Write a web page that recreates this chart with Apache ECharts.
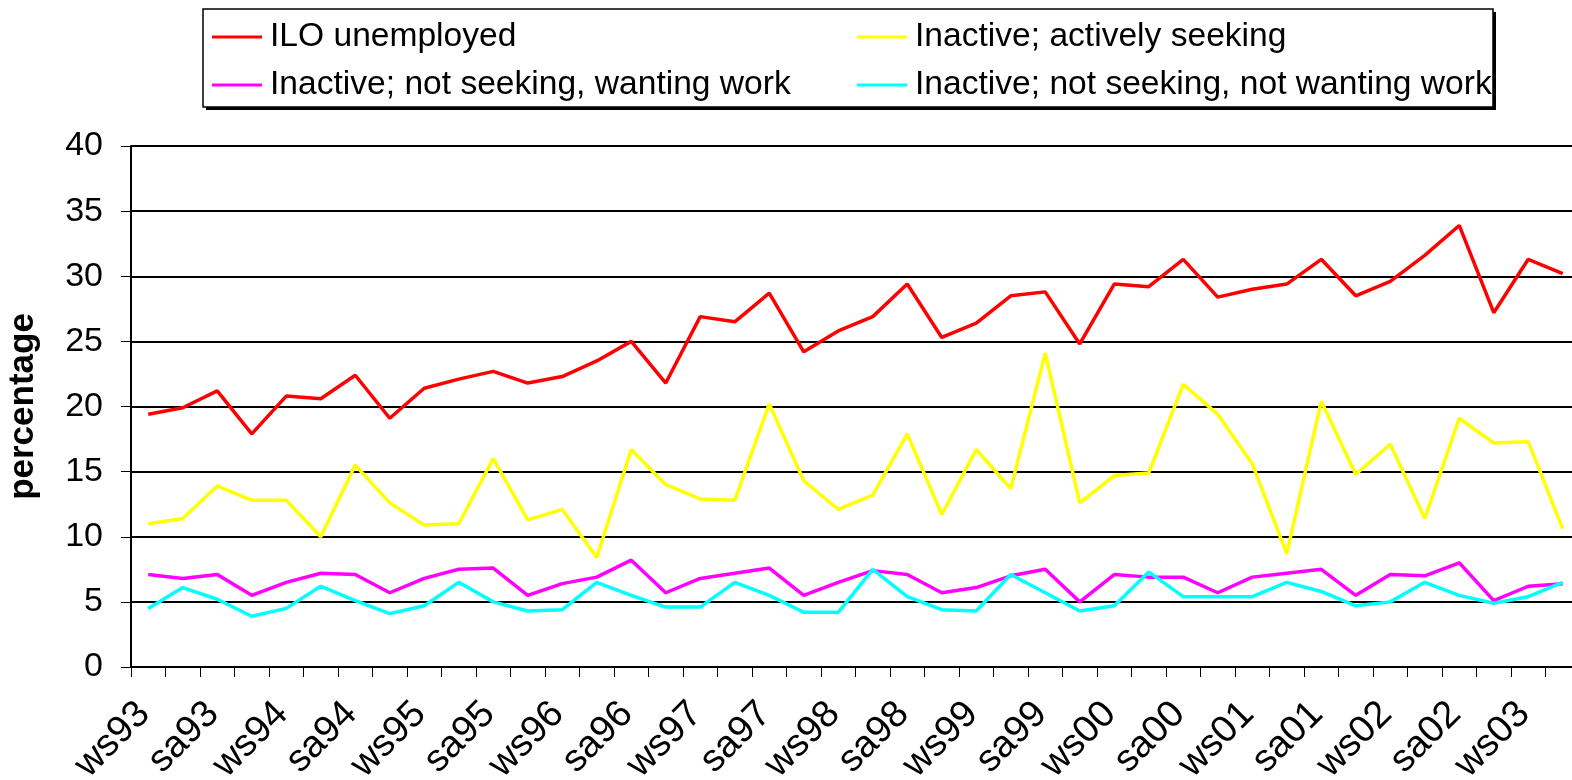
<!DOCTYPE html>
<html>
<head>
<meta charset="utf-8">
<script src="https://cdn.jsdelivr.net/npm/echarts@6/dist/echarts.min.js"></script>
<style>
html,body{margin:0;padding:0;background:#fff;}
#chart{width:1572px;height:780px;}
</style>
</head>
<body>
<div id="chart"></div>
<script>
// Categories: quarterly periods; every other one is labelled
const categories = [
  'ws93','sp93','sa93','au93','ws94','sp94','sa94','au94','ws95','sp95','sa95','au95',
  'ws96','sp96','sa96','au96','ws97','sp97','sa97','au97','ws98','sp98','sa98','au98',
  'ws99','sp99','sa99','au99','ws00','sp00','sa00','au00','ws01','sp01','sa01','au01',
  'ws02','sp02','sa02','au02','ws03','sp03'
];

const iloUnemployed = [
  19.4,19.9,21.2,17.9,20.8,20.6,22.4,19.1,21.4,22.1,22.7,21.8,22.3,23.5,25.0,21.8,
  26.9,26.5,28.7,24.2,25.8,26.9,29.4,25.3,26.4,28.5,28.8,24.8,29.4,29.2,31.3,28.4,
  29.0,29.4,31.3,28.5,29.6,31.6,33.9,27.2,31.3,30.2
];
const activelySeeking = [
  11.0,11.4,13.9,12.8,12.8,10.0,15.5,12.6,10.9,11.0,16.0,11.3,12.1,8.4,16.7,14.0,
  12.9,12.8,20.2,14.3,12.1,13.2,17.9,11.7,16.7,13.7,24.1,12.6,14.7,14.9,21.7,19.4,
  15.6,8.7,20.4,14.8,17.1,11.4,19.1,17.2,17.3,10.6
];
const notSeekingWanting = [
  7.1,6.8,7.1,5.5,6.5,7.2,7.1,5.7,6.8,7.5,7.6,5.5,6.4,6.9,8.2,5.7,
  6.8,7.2,7.6,5.5,6.5,7.4,7.1,5.7,6.1,7.0,7.5,5.0,7.1,6.9,6.9,5.7,
  6.9,7.2,7.5,5.5,7.1,7.0,8.0,5.1,6.2,6.4
];
const notSeekingNotWanting = [
  4.5,6.1,5.2,3.9,4.5,6.2,5.1,4.1,4.7,6.5,5.0,4.3,4.4,6.5,5.5,4.6,
  4.6,6.5,5.5,4.2,4.2,7.5,5.4,4.4,4.3,7.1,5.7,4.3,4.7,7.3,5.4,5.4,
  5.4,6.5,5.8,4.7,5.0,6.5,5.5,4.9,5.4,6.5
];

const seriesNames = [
  'ILO unemployed',
  'Inactive; actively seeking',
  'Inactive; not seeking, wanting work',
  'Inactive; not seeking, not wanting work'
];
const seriesColors = ['#FF0000','#FFFF00','#FF00FF','#00FFFF'];
const seriesData = [iloUnemployed, activelySeeking, notSeekingWanting, notSeekingNotWanting];

const yTicks = { min: 0, max: 40, interval: 5 };

const FONT = '"Liberation Sans", Arial, sans-serif';

const chart = echarts.init(document.getElementById('chart'), null, { renderer: 'canvas' });

const legendPos = [
  { left: 212, top: 17 },
  { left: 857, top: 17 },
  { left: 212, top: 65 },
  { left: 857, top: 65 }
];

const option = {
  animation: false,
  backgroundColor: '#ffffff',
  graphic: [
    { type: 'rect', z: 0, shape: { x: 206, y: 12, width: 1290, height: 98 }, style: { fill: '#000' } },
    { type: 'rect', z: 1, shape: { x: 203, y: 9, width: 1290, height: 98 }, style: { fill: '#fff', stroke: '#000', lineWidth: 1.5 } }
  ],
  legend: seriesNames.map((n, i) => ({
    data: [n],
    left: legendPos[i].left,
    top: legendPos[i].top,
    z: 10,
    icon: 'rect',
    itemWidth: 50,
    itemHeight: 3,
    padding: 0,
    selectedMode: false,
    textStyle: { fontSize: 33.6, fontFamily: FONT, color: '#000', lineHeight: 40, padding: [0, 0, 0, 3] }
  })),
  grid: {
    left: 131,
    top: 146,
    right: -8,
    bottom: 113,
    containLabel: false,
    outerBoundsMode: 'none'
  },
  xAxis: {
    type: 'category',
    data: categories,
    boundaryGap: true,
    axisLine: { show: true, lineStyle: { color: '#000', width: 2 } },
    axisTick: { show: true, interval: 0, length: 10, lineStyle: { color: '#000', width: 1 } },
    axisLabel: {
      interval: 1,
      rotate: 45,
      margin: 37,
      padding: [0, 6, 0, 0],
      fontSize: 38,
      fontFamily: FONT,
      color: '#000'
    },
    splitLine: { show: false }
  },
  yAxis: {
    type: 'value',
    min: yTicks.min,
    max: yTicks.max,
    interval: yTicks.interval,
    name: 'percentage',
    nameLocation: 'middle',
    nameRotate: 90,
    nameGap: 90,
    nameTextStyle: { fontSize: 35, fontWeight: 'bold', fontFamily: FONT, color: '#000' },
    axisLine: { show: true, lineStyle: { color: '#000', width: 2 } },
    axisTick: { show: true, length: 10, lineStyle: { color: '#000', width: 1 } },
    axisLabel: { margin: 28, fontSize: 34, fontFamily: FONT, color: '#000' },
    splitLine: { show: true, lineStyle: { color: '#000', width: 2 } }
  },
  series: seriesNames.map((n, i) => ({
    name: n,
    type: 'line',
    data: seriesData[i],
    symbol: 'none',
    showSymbol: false,
    color: seriesColors[i],
    lineStyle: { color: seriesColors[i], width: 3.5 },
    itemStyle: { color: seriesColors[i] },
    z: 3 + i
  }))
};

chart.setOption(option);
</script>
</body>
</html>
